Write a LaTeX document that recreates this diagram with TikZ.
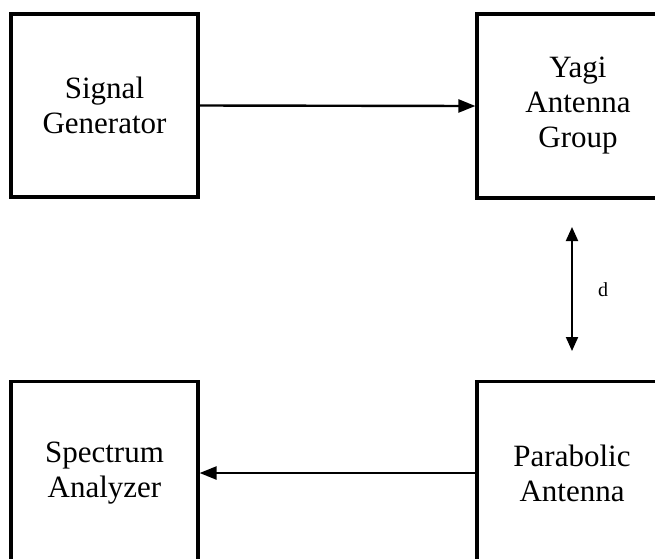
\documentclass[tikz,border=0pt]{standalone}
\usepackage{fontspec}
\setmainfont{Liberation Serif}
\usetikzlibrary{arrows.meta}
\begin{document}
\begin{tikzpicture}[x=1pt,y=-1pt,
  blk/.style={draw=black,line width=3.2pt,inner sep=0pt,align=center,
    font=\fontsize{31}{35}\selectfont},
  flow/.style={line width=2.4pt,-{Triangle[length=17pt,width=13pt]}},
  dist/.style={line width=2pt,{Triangle[length=14pt,width=12pt]}-{Triangle[length=14pt,width=12pt]}}]
\useasboundingbox (0,0) rectangle (655,558);
\clip (0,0) rectangle (655,558);
\node[blk,minimum width=187pt,minimum height=183pt] (sg) at (104.5,105.5) {Signal\\Generator};
\node[blk,minimum width=202pt,minimum height=184pt] (yagi) at (578,106) {Yagi\\Antenna\\Group};
\node[blk,minimum width=187pt,minimum height=183pt] (sa) at (104.5,473) {Spectrum\\Analyzer};
\node[blk,minimum width=190pt,minimum height=183pt] (pa) at (572,473) {Parabolic\\Antenna};
\draw[flow] (sg.east) -- (yagi.west);
\draw[flow] (pa.west) -- (sa.east);
\coordinate (d1) at (572,227);
\coordinate (d2) at (572,351);
\draw[dist] (d1) -- (d2);
\node[font=\fontsize{20}{22}\selectfont,inner sep=0pt] (dl) at (603,290) {d};
\end{tikzpicture}
\end{document}
